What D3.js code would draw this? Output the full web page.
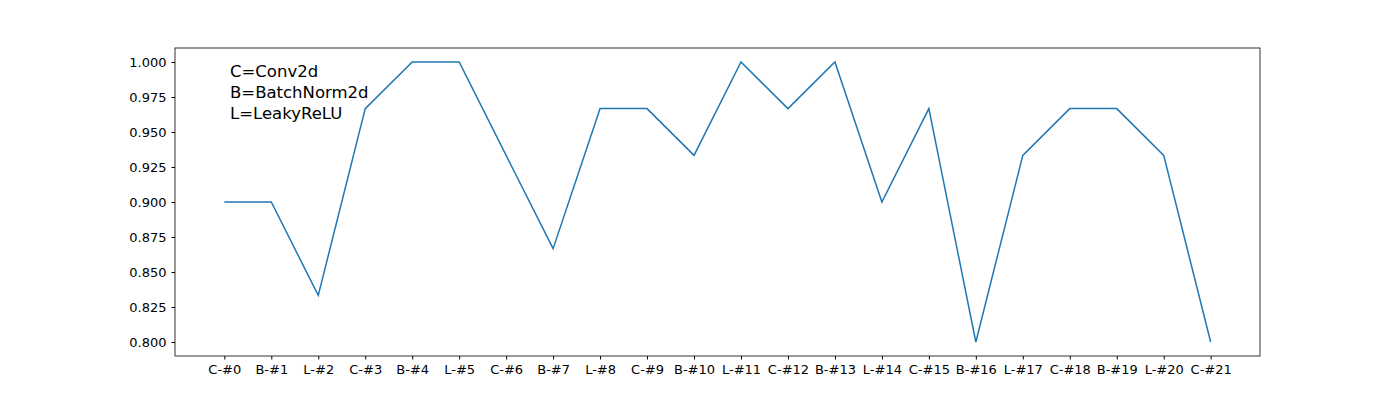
<!DOCTYPE html>
<html>
<head>
<meta charset="utf-8">
<script src="https://cdn.jsdelivr.net/npm/d3@7"></script>
<style>
  body { margin: 0; background: #fff; }
  text { font-family: "DejaVu Sans", sans-serif; }
</style>
</head>
<body>
<div id="chart"></div>
<script>
var layers = ['C-#0', 'B-#1', 'L-#2', 'C-#3', 'B-#4', 'L-#5', 'C-#6', 'B-#7', 'L-#8', 'C-#9', 'B-#10',
              'L-#11', 'C-#12', 'B-#13', 'L-#14', 'C-#15', 'B-#16', 'L-#17', 'C-#18', 'B-#19', 'L-#20', 'C-#21'];
var scores = [0.9, 0.9, 0.8333, 0.9667, 1.0, 1.0, 0.9333, 0.8667, 0.9667, 0.9667, 0.9333,
              1.0, 0.9667, 1.0, 0.9, 0.9667, 0.8, 0.9333, 0.9667, 0.9667, 0.9333, 0.8];
var yTicks = [0.800, 0.825, 0.850, 0.875, 0.900, 0.925, 0.950, 0.975, 1.000];
var notes = ['C=Conv2d', 'B=BatchNorm2d', 'L=LeakyReLU'];

(function () {
    var width = 1400, height = 400,
        pl = 175, pr = 1260, pt = 48, pb = 356,
        svg = d3.select('#chart').append('svg').attr('width', width).attr('height', height),
        n = layers.length - 1,
        x = d3.scaleLinear().domain([-n * 0.05, n * 1.05]).range([pl, pr]),
        y = d3.scaleLinear().domain([0.79, 1.01]).range([pb, pt]);

    svg.append('g')
        .attr('transform', 'translate(0,' + pb + ')')
        .call(d3.axisBottom(x).tickValues(d3.range(layers.length))
            .tickFormat(function (d) { return layers[d]; }).tickSizeOuter(0).tickSize(3.5).tickPadding(5))
        .call(function (g) { g.select('.domain').remove(); })
        .selectAll('text').style('font-size', '13px').attr('fill', '#000');

    svg.append('g')
        .attr('transform', 'translate(' + pl + ',0)')
        .call(d3.axisLeft(y).tickValues(yTicks).tickFormat(d3.format('.3f')).tickSize(3.5).tickPadding(5))
        .call(function (g) { g.select('.domain').remove(); })
        .selectAll('text').style('font-size', '13px').attr('fill', '#000');

    svg.append('path')
        .datum(scores)
        .attr('fill', 'none')
        .attr('stroke', '#1f77b4')
        .attr('stroke-width', 1.5)
        .attr('d', d3.line().x(function (d, i) { return x(i); }).y(function (d) { return y(d); }));

    svg.append('rect')
        .attr('x', pl).attr('y', pt)
        .attr('width', pr - pl).attr('height', pb - pt)
        .attr('fill', 'none').attr('stroke', '#000').attr('stroke-width', 0.8);

    svg.selectAll('.note')
        .data(notes)
        .enter()
        .append('text')
        .attr('x', 230)
        .attr('y', function (d, i) { return 77 + i * 21; })
        .style('font-size', '16.5px')
        .text(function (d) { return d; });
})();
</script>
</body>
</html>
